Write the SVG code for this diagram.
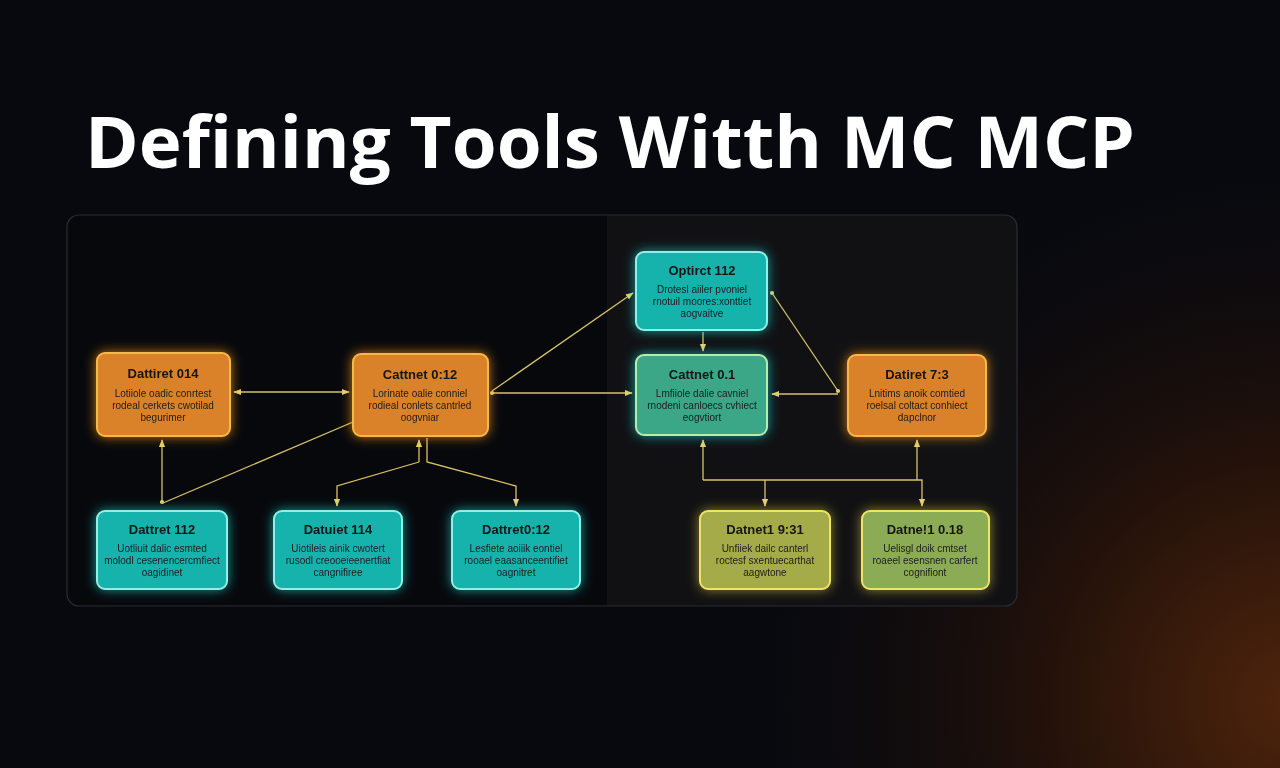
<svg xmlns="http://www.w3.org/2000/svg" width="1280" height="768" viewBox="0 0 1280 768">
<defs>
<radialGradient id="bgGlow" cx="1290" cy="700" r="600" gradientUnits="userSpaceOnUse">
<stop offset="0" stop-color="#4e240c"/>
<stop offset="0.4" stop-color="#24120a"/>
<stop offset="1" stop-color="#07090f" stop-opacity="0"/>
</radialGradient>
<filter id="gOrange" x="-30%" y="-40%" width="160%" height="180%">
<feGaussianBlur in="SourceAlpha" stdDeviation="6" result="b"/>
<feFlood flood-color="#ff9a1a" flood-opacity="0.75"/>
<feComposite in2="b" operator="in" result="g"/>
<feMerge><feMergeNode in="g"/><feMergeNode in="SourceGraphic"/></feMerge>
</filter>
<filter id="gCyan" x="-30%" y="-40%" width="160%" height="180%">
<feGaussianBlur in="SourceAlpha" stdDeviation="6" result="b"/>
<feFlood flood-color="#1fd6d0" flood-opacity="0.7"/>
<feComposite in2="b" operator="in" result="g"/>
<feMerge><feMergeNode in="g"/><feMergeNode in="SourceGraphic"/></feMerge>
</filter>
<filter id="gYellow" x="-30%" y="-40%" width="160%" height="180%">
<feGaussianBlur in="SourceAlpha" stdDeviation="6" result="b"/>
<feFlood flood-color="#e8d63a" flood-opacity="0.6"/>
<feComposite in2="b" operator="in" result="g"/>
<feMerge><feMergeNode in="g"/><feMergeNode in="SourceGraphic"/></feMerge>
</filter>
<marker id="arr" viewBox="0 0 10 10" refX="9" refY="5" markerWidth="6" markerHeight="6" orient="auto-start-reverse">
<path d="M0,1 L10,5 L0,9 z" fill="#e6cf6a"/>
</marker>
<marker id="dot" viewBox="0 0 10 10" refX="5" refY="5" markerWidth="4" markerHeight="4">
<circle cx="5" cy="5" r="4" fill="#e6cf6a"/>
</marker>
</defs>
<style>
.orange rect{fill:#d9822a;stroke:#f6b848;stroke-width:2}
.cyan rect{fill:#17b2ac;stroke:#8ff0e6;stroke-width:2}
.green rect{fill:#3aa786;stroke:#b6ecae;stroke-width:2}
.olive rect{fill:#a6ab48;stroke:#eee46a;stroke-width:2}
.olive2 rect{fill:#8cab55;stroke:#eee46a;stroke-width:2}
.t{font-family:"Liberation Sans",Arial,sans-serif;font-size:13px;font-weight:bold;fill:#151515;text-anchor:middle}
.b{font-family:"Liberation Sans",Arial,sans-serif;font-size:10px;fill:#1d1d1d;text-anchor:middle}
.c{fill:none;stroke:#d9c267;stroke-width:1.3}
</style>
<rect width="1280" height="768" fill="#07090f"/>
<rect width="1280" height="768" fill="url(#bgGlow)"/>
<text x="85" y="168" font-family="'Open Sans','Noto Sans',sans-serif" font-size="72" font-weight="700" fill="#ffffff" textLength="1050" lengthAdjust="spacingAndGlyphs">Defining Tools Witth MC MCP</text>
<g id="panel">
<rect x="67" y="215" width="950" height="391" rx="12" fill="#07080c"/>
<path d="M607,215 H1005 a12,12 0 0 1 12,12 V594 a12,12 0 0 1 -12,12 H607 Z" fill="#131315" opacity="0.9"/>
<rect x="67" y="215" width="950" height="391" rx="12" fill="none" stroke="#2a2d33" stroke-width="1.2"/>
</g>
<g id="connectors">
<path class="c" d="M234,392 H349" marker-start="url(#arr)" marker-end="url(#arr)"/>
<path class="c" d="M492,393 H632" marker-start="url(#dot)" marker-end="url(#arr)"/>
<path class="c" d="M492,391 L633,293" marker-end="url(#arr)"/>
<path class="c" d="M703,332 V351" marker-end="url(#arr)"/>
<path class="c" d="M838,391 L772,293" marker-start="url(#dot)" marker-end="url(#dot)"/>
<path class="c" d="M838,394 H772" marker-end="url(#arr)"/>
<path class="c" d="M162,502 V440" marker-start="url(#dot)" marker-end="url(#arr)"/>
<path class="c" d="M163,503 L353,422"/>
<path class="c" d="M419,462 V440" marker-end="url(#arr)"/>
<path class="c" d="M419,462 L337,486 V506" marker-end="url(#arr)"/>
<path class="c" d="M427,438 V462 L516,486 V506" marker-end="url(#arr)"/>
<path class="c" d="M703,480 V440" marker-end="url(#arr)"/>
<path class="c" d="M703,480 H922 V506" marker-end="url(#arr)"/>
<path class="c" d="M917,480 V440" marker-end="url(#arr)"/>
<path class="c" d="M765,480 V506" marker-end="url(#arr)"/>
</g>
<g id="n1" class="orange" filter="url(#gOrange)">
<rect x="97" y="353" width="133" height="83" rx="8"/>
<text class="t" x="163" y="378">Dattiret 014</text>
<text class="b" x="163" y="397">Lotiiole oadic conrtest</text>
<text class="b" x="163" y="409">rodeal cerkets cwotilad</text>
<text class="b" x="163" y="421">begurimer</text>
</g>
<g id="n2" class="orange" filter="url(#gOrange)">
<rect x="353" y="354" width="135" height="82" rx="8"/>
<text class="t" x="420" y="379">Cattnet 0:12</text>
<text class="b" x="420" y="397">Lorinate oalie conniel</text>
<text class="b" x="420" y="409">rodieal conlets cantrled</text>
<text class="b" x="420" y="421">oogvniar</text>
</g>
<g id="n3" class="cyan" filter="url(#gCyan)">
<rect x="636" y="252" width="131" height="78" rx="8"/>
<text class="t" x="702" y="275">Optirct 112</text>
<text class="b" x="702" y="293">Drotesl aiiler pvoniel</text>
<text class="b" x="702" y="305">rnotuil moores:xonttiet</text>
<text class="b" x="702" y="317">aogvaitve</text>
</g>
<g id="n4" class="green" filter="url(#gCyan)">
<rect x="636" y="355" width="131" height="80" rx="8"/>
<text class="t" x="702" y="379">Cattnet 0.1</text>
<text class="b" x="702" y="397">Lmfiiole dalie cavniel</text>
<text class="b" x="702" y="409">rnodeni canloecs cvhiect</text>
<text class="b" x="702" y="421">eogvtiort</text>
</g>
<g id="n5" class="orange" filter="url(#gOrange)">
<rect x="848" y="355" width="138" height="81" rx="8"/>
<text class="t" x="917" y="379">Datiret 7:3</text>
<text class="b" x="917" y="397">Lnitims anoik comtied</text>
<text class="b" x="917" y="409">roelsal coltact conhiect</text>
<text class="b" x="917" y="421">dapclnor</text>
</g>
<g id="n6" class="cyan" filter="url(#gCyan)">
<rect x="97" y="511" width="130" height="78" rx="8"/>
<text class="t" x="162" y="534">Dattret 112</text>
<text class="b" x="162" y="552">Uotliuit dalic esmted</text>
<text class="b" x="162" y="564">molodl cesenencercmfiect</text>
<text class="b" x="162" y="576">oagidinet</text>
</g>
<g id="n7" class="cyan" filter="url(#gCyan)">
<rect x="274" y="511" width="128" height="78" rx="8"/>
<text class="t" x="338" y="534">Datuiet 114</text>
<text class="b" x="338" y="552">Uiotileis ainik cwotert</text>
<text class="b" x="338" y="564">rusodl creooeieenertfiat</text>
<text class="b" x="338" y="576">cangnifiree</text>
</g>
<g id="n8" class="cyan" filter="url(#gCyan)">
<rect x="452" y="511" width="128" height="78" rx="8"/>
<text class="t" x="516" y="534">Dattret0:12</text>
<text class="b" x="516" y="552">Lesfiete aoiiik eontiel</text>
<text class="b" x="516" y="564">rooael eaasanceentifiet</text>
<text class="b" x="516" y="576">oagnitret</text>
</g>
<g id="n9" class="olive" filter="url(#gYellow)">
<rect x="700" y="511" width="130" height="78" rx="8"/>
<text class="t" x="765" y="534">Datnet1 9:31</text>
<text class="b" x="765" y="552">Unfiiek dailc canterl</text>
<text class="b" x="765" y="564">roctesf sxentuecarthat</text>
<text class="b" x="765" y="576">aagwtone</text>
</g>
<g id="n10" class="olive2" filter="url(#gYellow)">
<rect x="862" y="511" width="127" height="78" rx="8"/>
<text class="t" x="925" y="534">Datne!1 0.18</text>
<text class="b" x="925" y="552">Uelisgl doik cmtset</text>
<text class="b" x="925" y="564">roaeel esensnen carfert</text>
<text class="b" x="925" y="576">cognifiont</text>
</g>
</svg>
